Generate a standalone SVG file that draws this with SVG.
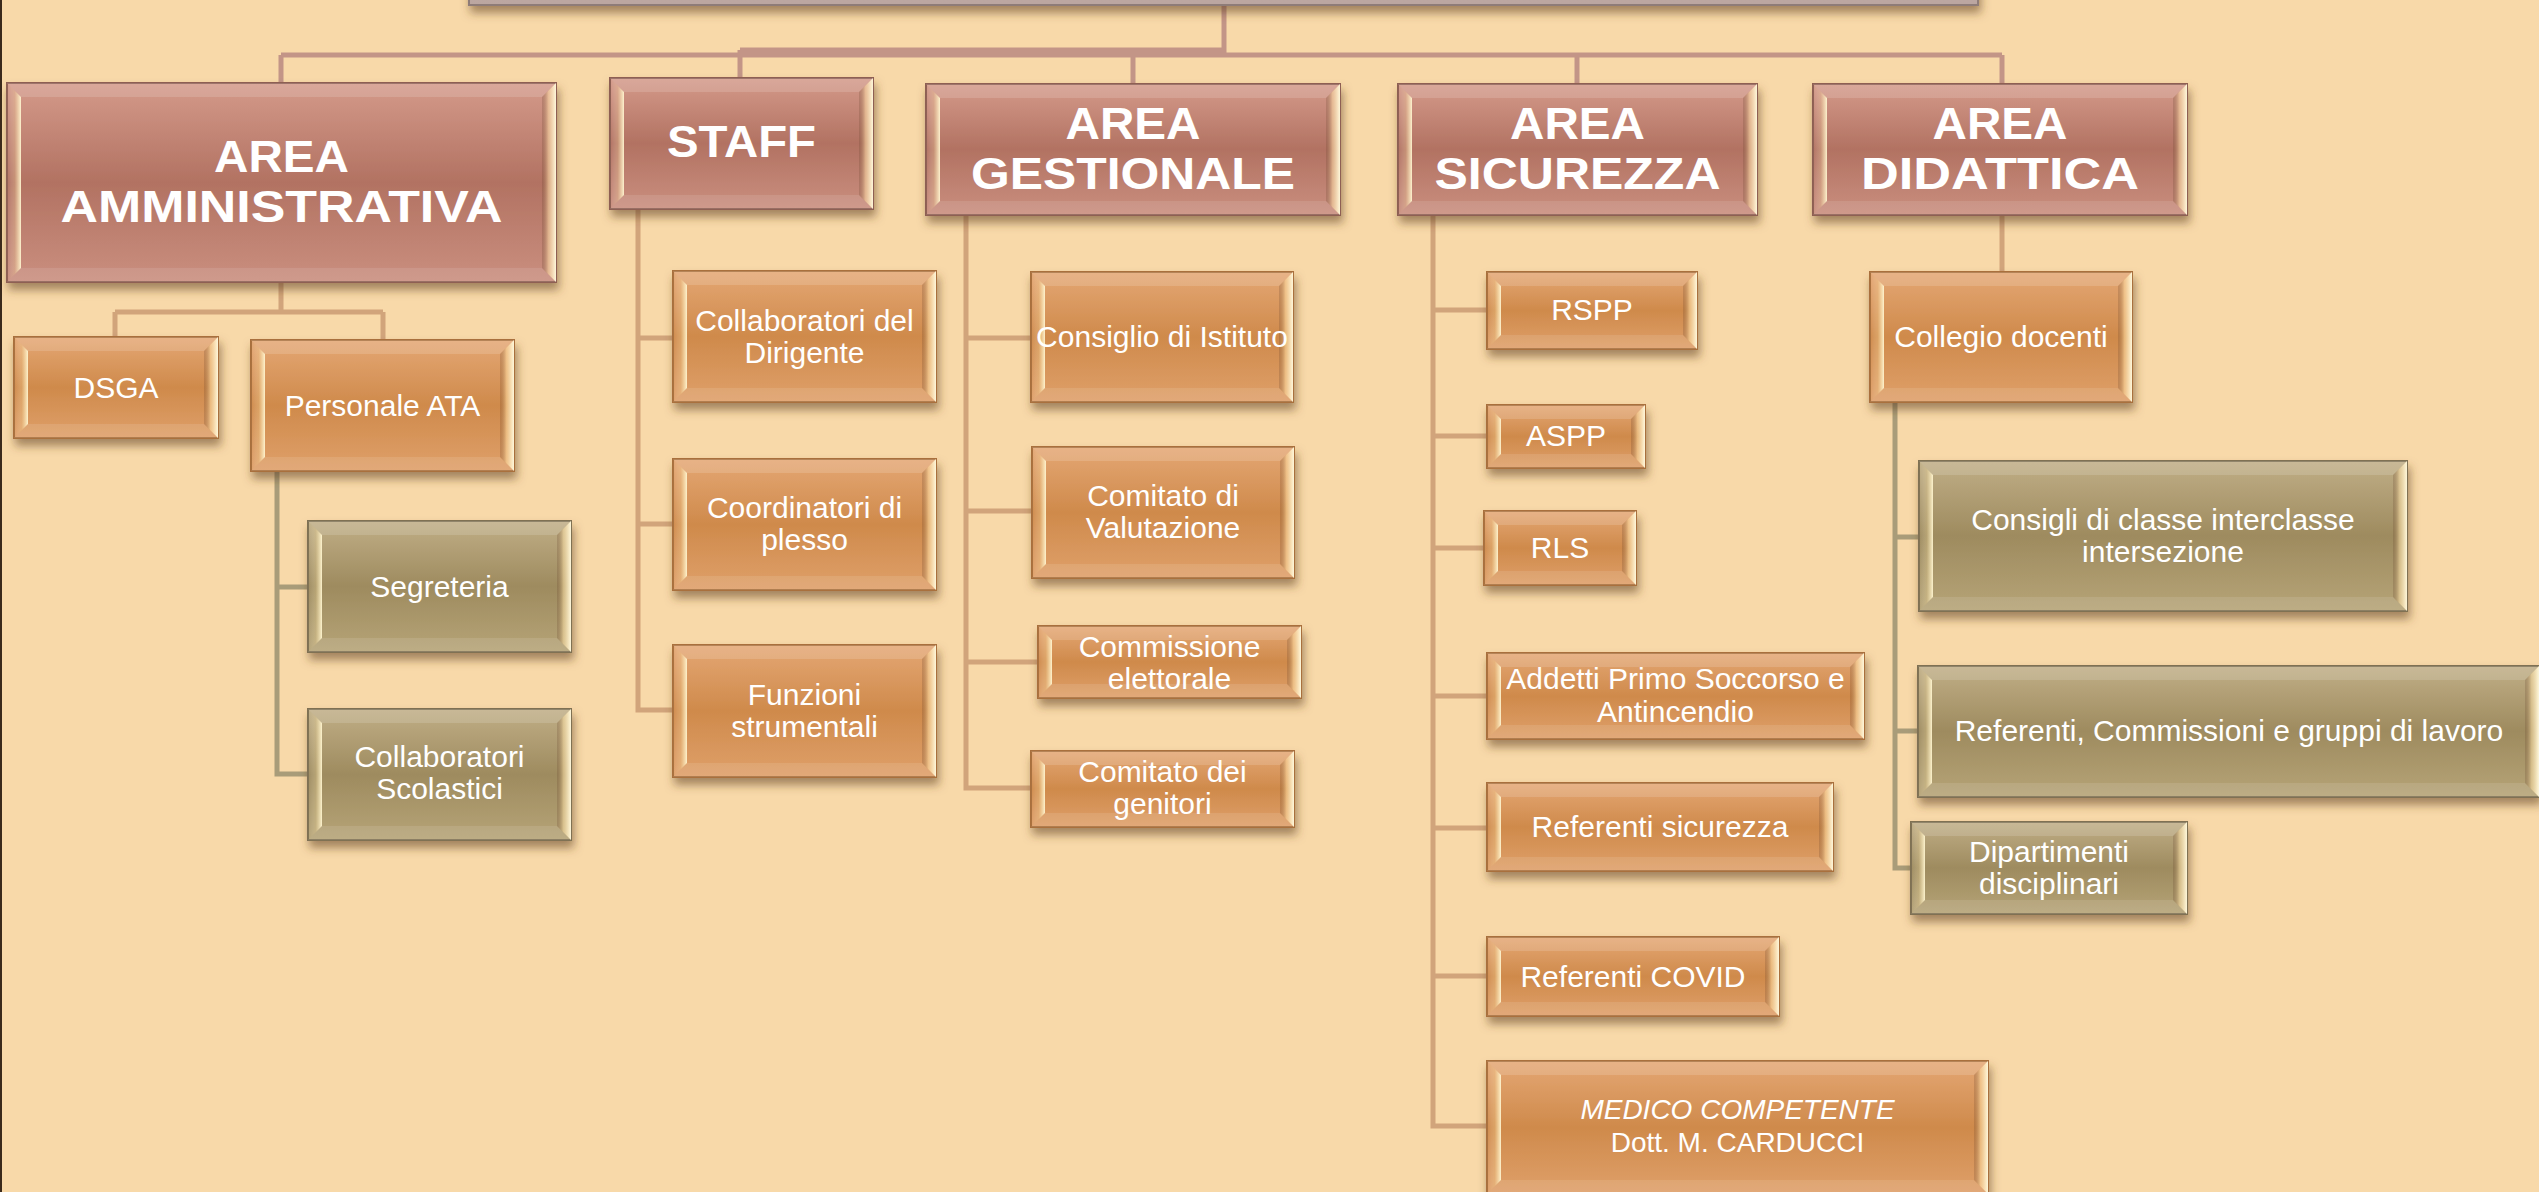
<svg xmlns="http://www.w3.org/2000/svg" width="2539" height="1192" viewBox="0 0 2539 1192">
<defs>
<linearGradient id="gRose" x1="0" y1="0" x2="0" y2="1"><stop offset="0" stop-color="#D49A8A"/><stop offset="0.5" stop-color="#B27262"/><stop offset="1" stop-color="#CA8F7F"/></linearGradient>
<linearGradient id="gOrange" x1="0" y1="0" x2="0" y2="1"><stop offset="0" stop-color="#E4A774"/><stop offset="0.5" stop-color="#CF8A4B"/><stop offset="1" stop-color="#DFA06A"/></linearGradient>
<linearGradient id="gOlive" x1="0" y1="0" x2="0" y2="1"><stop offset="0" stop-color="#C0AE86"/><stop offset="0.5" stop-color="#9E8B5F"/><stop offset="1" stop-color="#B6A477"/></linearGradient>
<linearGradient id="gTop" x1="0" y1="0" x2="0" y2="1"><stop offset="0" stop-color="#C8B2AE"/><stop offset="1" stop-color="#BBA6A0"/></linearGradient>
<linearGradient id="gL" x1="0" y1="0" x2="1" y2="0"><stop offset="0" stop-color="#FFFFFF" stop-opacity="0"/><stop offset="0.55" stop-color="#FFE9B0" stop-opacity="0.25"/><stop offset="1" stop-color="#FFF6D2" stop-opacity="0.95"/></linearGradient>
<linearGradient id="gR" x1="0" y1="0" x2="1" y2="0"><stop offset="0" stop-color="#5A3520" stop-opacity="0.2"/><stop offset="0.45" stop-color="#FFE2A8" stop-opacity="0.5"/><stop offset="1" stop-color="#FFF8DC" stop-opacity="1"/></linearGradient>
<filter id="sh" x="-10%" y="-20%" width="120%" height="150%"><feDropShadow dx="2" dy="7" stdDeviation="5" flood-color="#5E3E22" flood-opacity="0.55"/></filter>
</defs>
<style>
.base{filter:url(#sh);stroke-width:2}
.rose .base{fill:url(#gRose);stroke:#8E5E52}
.orange .base{fill:url(#gOrange);stroke:#A96F3E}
.olive .base{fill:url(#gOlive);stroke:#7F7152}
.bt{fill:#FFFFFF;fill-opacity:.14}
.bb{fill:#FFFFFF;fill-opacity:.1}
.bl{fill:url(#gL)}
.br{fill:url(#gR)}
.t{font-family:"Liberation Sans",Arial,sans-serif;fill:#FFFFFF;text-anchor:middle;font-size:30px}
.h{font-weight:bold;font-size:44px}
#connectors path{fill:none;stroke-width:5}
.c-rose{stroke:#C39587}
.c-tan{stroke:#D1A47B}
.c-olive{stroke:#A99C79}
</style>
<rect x="0" y="0" width="2539" height="1192" fill="#F8D9A9"/>
<rect x="0" y="0" width="2" height="1192" fill="#3B2A1C"/>

<g id="connectors">
<path class="c-rose" d="M1224,5 V55 M740,50 H1224 M740,50 V78 M281,55 H2002 M281,55 V83 M1133,55 V84 M1577,55 V84 M2002,55 V84"/>
<path class="c-tan" d="M281,282 V312 M115,312 H383 M115,312 V337 M383,312 V340 M2002,215 V272"/>
<path class="c-tan" d="M638,209 V710 H673 M638,338 H673 M638,524 H673"/>
<path class="c-tan" d="M966,215 V788 H1031 M966,338 H1031 M966,511 H1032 M966,662 H1038"/>
<path class="c-tan" d="M1433,215 V1126 H1487 M1433,310 H1487 M1433,436 H1487 M1433,548 H1484 M1433,696 H1487 M1433,828 H1487 M1433,976 H1487"/>
<path class="c-olive" d="M277,471 V774 H308 M277,587 H308"/>
<path class="c-olive" d="M1895,402 V868 H1911 M1895,537 H1919 M1895,731 H1918"/>
</g>

<g id="top">
<rect x="469" y="-60" width="1509" height="65" fill="url(#gTop)" stroke="#8E7C78" stroke-width="2" filter="url(#sh)"/>
</g>

<g id="area-amministrativa" class="rose">
<rect class="base" x="7" y="83" width="549" height="199"/>
<polygon class="bt" points="7,83 556,83 542,97 21,97"/>
<polygon class="bb" points="7,282 556,282 542,268 21,268"/>
<polygon class="bl" points="7,83 21,97 21,268 7,282"/>
<polygon class="br" points="556,83 542,97 542,268 556,282"/>
<text class="t h" x="281.5" y="172" textLength="135" lengthAdjust="spacingAndGlyphs">AREA</text>
<text class="t h" x="281.5" y="222" textLength="442" lengthAdjust="spacingAndGlyphs">AMMINISTRATIVA</text>
</g>

<g id="staff" class="rose">
<rect class="base" x="610" y="78" width="263" height="131"/>
<polygon class="bt" points="610,78 873,78 859,92 624,92"/>
<polygon class="bb" points="610,209 873,209 859,195 624,195"/>
<polygon class="bl" points="610,78 624,92 624,195 610,209"/>
<polygon class="br" points="873,78 859,92 859,195 873,209"/>
<text class="t h" x="741.5" y="157" textLength="149" lengthAdjust="spacingAndGlyphs">STAFF</text>
</g>

<g id="area-gestionale" class="rose">
<rect class="base" x="926" y="84" width="414" height="131"/>
<polygon class="bt" points="926,84 1340,84 1326,98 940,98"/>
<polygon class="bb" points="926,215 1340,215 1326,201 940,201"/>
<polygon class="bl" points="926,84 940,98 940,201 926,215"/>
<polygon class="br" points="1340,84 1326,98 1326,201 1340,215"/>
<text class="t h" x="1133" y="139" textLength="135" lengthAdjust="spacingAndGlyphs">AREA</text>
<text class="t h" x="1133" y="189" textLength="324" lengthAdjust="spacingAndGlyphs">GESTIONALE</text>
</g>

<g id="area-sicurezza" class="rose">
<rect class="base" x="1398" y="84" width="359" height="131"/>
<polygon class="bt" points="1398,84 1757,84 1743,98 1412,98"/>
<polygon class="bb" points="1398,215 1757,215 1743,201 1412,201"/>
<polygon class="bl" points="1398,84 1412,98 1412,201 1398,215"/>
<polygon class="br" points="1757,84 1743,98 1743,201 1757,215"/>
<text class="t h" x="1577.5" y="139" textLength="135" lengthAdjust="spacingAndGlyphs">AREA</text>
<text class="t h" x="1577.5" y="189" textLength="286" lengthAdjust="spacingAndGlyphs">SICUREZZA</text>
</g>

<g id="area-didattica" class="rose">
<rect class="base" x="1813" y="84" width="374" height="131"/>
<polygon class="bt" points="1813,84 2187,84 2173,98 1827,98"/>
<polygon class="bb" points="1813,215 2187,215 2173,201 1827,201"/>
<polygon class="bl" points="1813,84 1827,98 1827,201 1813,215"/>
<polygon class="br" points="2187,84 2173,98 2173,201 2187,215"/>
<text class="t h" x="2000" y="139" textLength="135" lengthAdjust="spacingAndGlyphs">AREA</text>
<text class="t h" x="2000" y="189" textLength="278" lengthAdjust="spacingAndGlyphs">DIDATTICA</text>
</g>

<g id="dsga" class="orange">
<rect class="base" x="14" y="337" width="204" height="101"/>
<polygon class="bt" points="14,337 218,337 204,351 28,351"/>
<polygon class="bb" points="14,438 218,438 204,424 28,424"/>
<polygon class="bl" points="14,337 28,351 28,424 14,438"/>
<polygon class="br" points="218,337 204,351 204,424 218,438"/>
<text class="t" x="116" y="398">DSGA</text>
</g>

<g id="personale-ata" class="orange">
<rect class="base" x="251" y="340" width="263" height="131"/>
<polygon class="bt" points="251,340 514,340 500,354 265,354"/>
<polygon class="bb" points="251,471 514,471 500,457 265,457"/>
<polygon class="bl" points="251,340 265,354 265,457 251,471"/>
<polygon class="br" points="514,340 500,354 500,457 514,471"/>
<text class="t" x="382.5" y="416">Personale ATA</text>
</g>

<g id="segreteria" class="olive">
<rect class="base" x="308" y="521" width="263" height="131"/>
<polygon class="bt" points="308,521 571,521 557,535 322,535"/>
<polygon class="bb" points="308,652 571,652 557,638 322,638"/>
<polygon class="bl" points="308,521 322,535 322,638 308,652"/>
<polygon class="br" points="571,521 557,535 557,638 571,652"/>
<text class="t" x="439.5" y="597">Segreteria</text>
</g>

<g id="collaboratori-scolastici" class="olive">
<rect class="base" x="308" y="709" width="263" height="131"/>
<polygon class="bt" points="308,709 571,709 557,723 322,723"/>
<polygon class="bb" points="308,840 571,840 557,826 322,826"/>
<polygon class="bl" points="308,709 322,723 322,826 308,840"/>
<polygon class="br" points="571,709 557,723 557,826 571,840"/>
<text class="t" x="439.5" y="767">Collaboratori</text>
<text class="t" x="439.5" y="799">Scolastici</text>
</g>

<g id="collaboratori-dirigente" class="orange">
<rect class="base" x="673" y="271" width="263" height="131"/>
<polygon class="bt" points="673,271 936,271 922,285 687,285"/>
<polygon class="bb" points="673,402 936,402 922,388 687,388"/>
<polygon class="bl" points="673,271 687,285 687,388 673,402"/>
<polygon class="br" points="936,271 922,285 922,388 936,402"/>
<text class="t" x="804.5" y="331">Collaboratori del</text>
<text class="t" x="804.5" y="363">Dirigente</text>
</g>

<g id="coordinatori-plesso" class="orange">
<rect class="base" x="673" y="459" width="263" height="131"/>
<polygon class="bt" points="673,459 936,459 922,473 687,473"/>
<polygon class="bb" points="673,590 936,590 922,576 687,576"/>
<polygon class="bl" points="673,459 687,473 687,576 673,590"/>
<polygon class="br" points="936,459 922,473 922,576 936,590"/>
<text class="t" x="804.5" y="518">Coordinatori di</text>
<text class="t" x="804.5" y="550">plesso</text>
</g>

<g id="funzioni-strumentali" class="orange">
<rect class="base" x="673" y="645" width="263" height="132"/>
<polygon class="bt" points="673,645 936,645 922,659 687,659"/>
<polygon class="bb" points="673,777 936,777 922,763 687,763"/>
<polygon class="bl" points="673,645 687,659 687,763 673,777"/>
<polygon class="br" points="936,645 922,659 922,763 936,777"/>
<text class="t" x="804.5" y="705">Funzioni</text>
<text class="t" x="804.5" y="737">strumentali</text>
</g>

<g id="consiglio-istituto" class="orange">
<rect class="base" x="1031" y="272" width="262" height="130"/>
<polygon class="bt" points="1031,272 1293,272 1279,286 1045,286"/>
<polygon class="bb" points="1031,402 1293,402 1279,388 1045,388"/>
<polygon class="bl" points="1031,272 1045,286 1045,388 1031,402"/>
<polygon class="br" points="1293,272 1279,286 1279,388 1293,402"/>
<text class="t" x="1162" y="347">Consiglio di Istituto</text>
</g>

<g id="comitato-valutazione" class="orange">
<rect class="base" x="1032" y="447" width="262" height="131"/>
<polygon class="bt" points="1032,447 1294,447 1280,461 1046,461"/>
<polygon class="bb" points="1032,578 1294,578 1280,564 1046,564"/>
<polygon class="bl" points="1032,447 1046,461 1046,564 1032,578"/>
<polygon class="br" points="1294,447 1280,461 1280,564 1294,578"/>
<text class="t" x="1163" y="506">Comitato di</text>
<text class="t" x="1163" y="538">Valutazione</text>
</g>

<g id="commissione-elettorale" class="orange">
<rect class="base" x="1038" y="626" width="263" height="72"/>
<polygon class="bt" points="1038,626 1301,626 1287,640 1052,640"/>
<polygon class="bb" points="1038,698 1301,698 1287,684 1052,684"/>
<polygon class="bl" points="1038,626 1052,640 1052,684 1038,698"/>
<polygon class="br" points="1301,626 1287,640 1287,684 1301,698"/>
<text class="t" x="1169.5" y="657">Commissione</text>
<text class="t" x="1169.5" y="689">elettorale</text>
</g>

<g id="comitato-genitori" class="orange">
<rect class="base" x="1031" y="751" width="263" height="76"/>
<polygon class="bt" points="1031,751 1294,751 1280,765 1045,765"/>
<polygon class="bb" points="1031,827 1294,827 1280,813 1045,813"/>
<polygon class="bl" points="1031,751 1045,765 1045,813 1031,827"/>
<polygon class="br" points="1294,751 1280,765 1280,813 1294,827"/>
<text class="t" x="1162.5" y="782">Comitato dei</text>
<text class="t" x="1162.5" y="814">genitori</text>
</g>

<g id="rspp" class="orange">
<rect class="base" x="1487" y="272" width="210" height="77"/>
<polygon class="bt" points="1487,272 1697,272 1683,286 1501,286"/>
<polygon class="bb" points="1487,349 1697,349 1683,335 1501,335"/>
<polygon class="bl" points="1487,272 1501,286 1501,335 1487,349"/>
<polygon class="br" points="1697,272 1683,286 1683,335 1697,349"/>
<text class="t" x="1592" y="320">RSPP</text>
</g>

<g id="aspp" class="orange">
<rect class="base" x="1487" y="405" width="158" height="63"/>
<polygon class="bt" points="1487,405 1645,405 1631,419 1501,419"/>
<polygon class="bb" points="1487,468 1645,468 1631,454 1501,454"/>
<polygon class="bl" points="1487,405 1501,419 1501,454 1487,468"/>
<polygon class="br" points="1645,405 1631,419 1631,454 1645,468"/>
<text class="t" x="1566" y="446">ASPP</text>
</g>

<g id="rls" class="orange">
<rect class="base" x="1484" y="511" width="152" height="74"/>
<polygon class="bt" points="1484,511 1636,511 1622,525 1498,525"/>
<polygon class="bb" points="1484,585 1636,585 1622,571 1498,571"/>
<polygon class="bl" points="1484,511 1498,525 1498,571 1484,585"/>
<polygon class="br" points="1636,511 1622,525 1622,571 1636,585"/>
<text class="t" x="1560" y="558">RLS</text>
</g>

<g id="addetti" class="orange">
<rect class="base" x="1487" y="653" width="377" height="86"/>
<polygon class="bt" points="1487,653 1864,653 1850,667 1501,667"/>
<polygon class="bb" points="1487,739 1864,739 1850,725 1501,725"/>
<polygon class="bl" points="1487,653 1501,667 1501,725 1487,739"/>
<polygon class="br" points="1864,653 1850,667 1850,725 1864,739"/>
<text class="t" x="1675.5" y="689">Addetti Primo Soccorso e</text>
<text class="t" x="1675.5" y="722">Antincendio</text>
</g>

<g id="referenti-sicurezza" class="orange">
<rect class="base" x="1487" y="783" width="346" height="88"/>
<polygon class="bt" points="1487,783 1833,783 1819,797 1501,797"/>
<polygon class="bb" points="1487,871 1833,871 1819,857 1501,857"/>
<polygon class="bl" points="1487,783 1501,797 1501,857 1487,871"/>
<polygon class="br" points="1833,783 1819,797 1819,857 1833,871"/>
<text class="t" x="1660" y="837">Referenti sicurezza</text>
</g>

<g id="referenti-covid" class="orange">
<rect class="base" x="1487" y="937" width="292" height="79"/>
<polygon class="bt" points="1487,937 1779,937 1765,951 1501,951"/>
<polygon class="bb" points="1487,1016 1779,1016 1765,1002 1501,1002"/>
<polygon class="bl" points="1487,937 1501,951 1501,1002 1487,1016"/>
<polygon class="br" points="1779,937 1765,951 1765,1002 1779,1016"/>
<text class="t" x="1633" y="987">Referenti COVID</text>
</g>

<g id="medico" class="orange">
<rect class="base" x="1487" y="1061" width="501" height="133"/>
<polygon class="bt" points="1487,1061 1988,1061 1974,1075 1501,1075"/>
<polygon class="bb" points="1487,1194 1988,1194 1974,1180 1501,1180"/>
<polygon class="bl" points="1487,1061 1501,1075 1501,1180 1487,1194"/>
<polygon class="br" points="1988,1061 1974,1075 1974,1180 1988,1194"/>
<text class="t" x="1737.5" y="1119" style="font-size:28px;font-style:italic">MEDICO COMPETENTE</text>
<text class="t" x="1737.5" y="1152" style="font-size:28px">Dott. M. CARDUCCI</text>
</g>

<g id="collegio-docenti" class="orange">
<rect class="base" x="1870" y="272" width="262" height="130"/>
<polygon class="bt" points="1870,272 2132,272 2118,286 1884,286"/>
<polygon class="bb" points="1870,402 2132,402 2118,388 1884,388"/>
<polygon class="bl" points="1870,272 1884,286 1884,388 1870,402"/>
<polygon class="br" points="2132,272 2118,286 2118,388 2132,402"/>
<text class="t" x="2001" y="347">Collegio docenti</text>
</g>

<g id="consigli-classe" class="olive">
<rect class="base" x="1919" y="461" width="488" height="150"/>
<polygon class="bt" points="1919,461 2407,461 2393,475 1933,475"/>
<polygon class="bb" points="1919,611 2407,611 2393,597 1933,597"/>
<polygon class="bl" points="1919,461 1933,475 1933,597 1919,611"/>
<polygon class="br" points="2407,461 2393,475 2393,597 2407,611"/>
<text class="t" x="2163" y="530">Consigli di classe interclasse</text>
<text class="t" x="2163" y="562">intersezione</text>
</g>

<g id="referenti-commissioni" class="olive">
<rect class="base" x="1918" y="666" width="621" height="131"/>
<polygon class="bt" points="1918,666 2539,666 2525,680 1932,680"/>
<polygon class="bb" points="1918,797 2539,797 2525,783 1932,783"/>
<polygon class="bl" points="1918,666 1932,680 1932,783 1918,797"/>
<polygon class="br" points="2539,666 2525,680 2525,783 2539,797"/>
<text class="t" x="2229" y="741">Referenti, Commissioni e gruppi di lavoro</text>
</g>

<g id="dipartimenti" class="olive">
<rect class="base" x="1911" y="822" width="276" height="92"/>
<polygon class="bt" points="1911,822 2187,822 2173,836 1925,836"/>
<polygon class="bb" points="1911,914 2187,914 2173,900 1925,900"/>
<polygon class="bl" points="1911,822 1925,836 1925,900 1911,914"/>
<polygon class="br" points="2187,822 2173,836 2173,900 2187,914"/>
<text class="t" x="2049" y="862">Dipartimenti</text>
<text class="t" x="2049" y="894">disciplinari</text>
</g>
</svg>
